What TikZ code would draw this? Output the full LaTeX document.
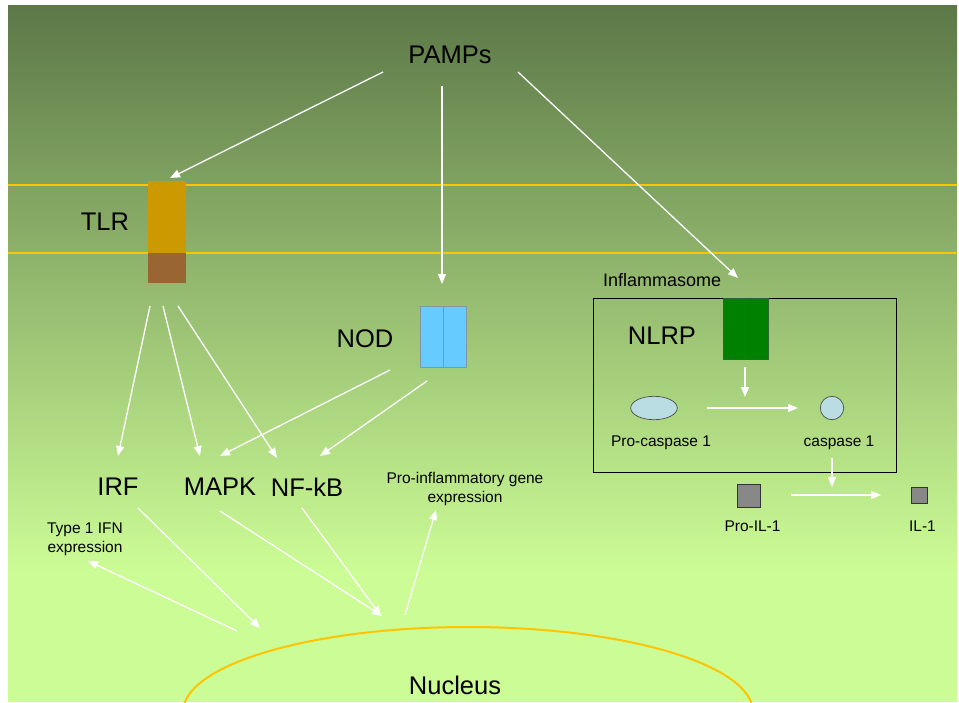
\documentclass[tikz,border=0pt]{standalone}
\usepackage{fontspec}
\setmainfont{Liberation Sans}
\usetikzlibrary{arrows.meta,shapes.geometric}
\definecolor{bgtop}{RGB}{92,120,72}
\definecolor{bgbot}{RGB}{204,252,150}
\definecolor{memb}{RGB}{255,196,0}
\definecolor{tlrtop}{RGB}{204,153,0}
\definecolor{tlrbot}{RGB}{153,102,51}
\definecolor{nodfill}{RGB}{102,204,255}
\definecolor{nodline}{RGB}{130,150,170}
\definecolor{nlrpfill}{RGB}{0,128,0}
\definecolor{nlrpline}{RGB}{50,100,50}
\definecolor{caspfill}{RGB}{186,221,228}
\definecolor{ilfill}{RGB}{136,136,136}
\begin{document}
\begin{tikzpicture}[x=1pt,y=-1pt,
  big/.style={font=\fontsize{25.5}{30}\selectfont, inner sep=0pt},
  midtxt/.style={font=\fontsize{18}{21}\selectfont, inner sep=0pt},
  small/.style={font=\fontsize{15.5}{18.5}\selectfont, inner sep=0pt, align=center},
  arr/.style={white, line width=1.3pt, -{Triangle[length=10pt,width=8pt]}},
  membline/.style={memb, line width=2.8pt},
]
\useasboundingbox (0,0) rectangle (959,702);
\shade[top color=bgtop,bottom color=bgbot] (8,5) rectangle (957,572);
\fill[bgbot] (8,571) rectangle (957,702);

% membrane
\draw[membline] (8,185) -- (957,185);
\draw[membline] (8,253) -- (957,253);

% nucleus
\begin{scope}
\clip (8,5) rectangle (957,702);
\draw[memb, line width=2pt] (468,712) ellipse [x radius=285, y radius=85];
\end{scope}
\node[big] (nucleus) at (455,685) {Nucleus};

% TLR
\fill[tlrtop] (148,181) rectangle (186,253);
\fill[tlrbot] (148,253) rectangle (186,283);
\node[big] (tlrlab) at (105,222) {TLR};

% NOD
\draw[nodline, fill=nodfill] (420,306) rectangle (466,367);
\draw[nodline] (443,306) -- (443,367);
\node[big] (nodlab) at (365,339) {NOD};

% PAMPs
\node[big] (pamps) at (450,55) {PAMPs};

% Inflammasome
\draw[black, line width=0.9pt] (593.5,298.5) rectangle (896.5,472.5);
\node[midtxt, anchor=west] (inflab) at (603,280) {Inflammasome};
\draw[nlrpline, fill=nlrpfill] (723,298.5) rectangle (768,359);
\draw[nlrpline] (745.5,298.5) -- (745.5,359);
\node[big] (nlrplab) at (662,336) {NLRP};
\node[draw=black!70, line width=0.7pt, fill=caspfill, ellipse, minimum width=46.6pt, minimum height=23.4pt, inner sep=0pt] (procasp) at (654,408) {};
\node[draw=black!70, line width=0.7pt, fill=caspfill, circle, minimum size=23.4pt, inner sep=0pt] (casp) at (832,408) {};
\node[small] (procasplab) at (661,443) {Pro-caspase 1};
\node[small] (casplab) at (839,443) {caspase 1};

% IL-1
\node[draw=black!80, line width=0.8pt, fill=ilfill, minimum size=23pt, inner sep=0pt] (proil) at (749,496) {};
\node[draw=black!80, line width=0.8pt, fill=ilfill, minimum size=16pt, inner sep=0pt] (il) at (919,495.5) {};
\node[small] (proillab) at (752.5,526) {Pro-IL-1};
\node[small] (illab) at (922.5,526) {IL-1};

% middle labels
\node[big] (irf) at (118,487) {IRF};
\node[big] (mapk) at (220,487) {MAPK};
\node[big] (nfkb) at (307,487) {NF-kB};
\node[small] (proinf) at (465,489) {Pro-inflammatory gene\\expression};
\node[small] (ifn) at (85,539.5) {Type 1 IFN\\expression};

% arrow coordinates
\coordinate (a1s) at (383,72);  \coordinate (a1e) at (170,178);
\coordinate (a2s) at (442,86);  \coordinate (a2e) at (442,284);
\coordinate (a3s) at (518,72);  \coordinate (a3e) at (738,278);
\coordinate (t1s) at (150,306); \coordinate (t1e) at (118,456);
\coordinate (t2s) at (163,306); \coordinate (t2e) at (200,456);
\coordinate (t3s) at (178,306); \coordinate (t3e) at (277,458);
\coordinate (n1s) at (390,370); \coordinate (n1e) at (220,456);
\coordinate (n2s) at (427,381); \coordinate (n2e) at (320,456);
\coordinate (b1s) at (138,508); \coordinate (b1e) at (260,628);
\coordinate (b2s) at (220,511); \coordinate (b2e) at (382,616);
\coordinate (b3s) at (302,508); \coordinate (b3e) at (381,616);
\coordinate (b4s) at (237,631); \coordinate (b4e) at (88,561);
\coordinate (b5s) at (405,615); \coordinate (b5e) at (436,510);
\coordinate (c1s) at (745,367); \coordinate (c1e) at (745,397);
\coordinate (c2s) at (707,408); \coordinate (c2e) at (798,408);
\coordinate (c3s) at (832,458); \coordinate (c3e) at (832,487);
\coordinate (c4s) at (791,495); \coordinate (c4e) at (881,495);

\foreach \a in {a1,a2,a3,t1,t2,t3,n1,n2,b1,b2,b3,b4,b5,c1,c2,c3,c4}
  \draw[arr] (\a s) -- (\a e);
\end{tikzpicture}
\end{document}
